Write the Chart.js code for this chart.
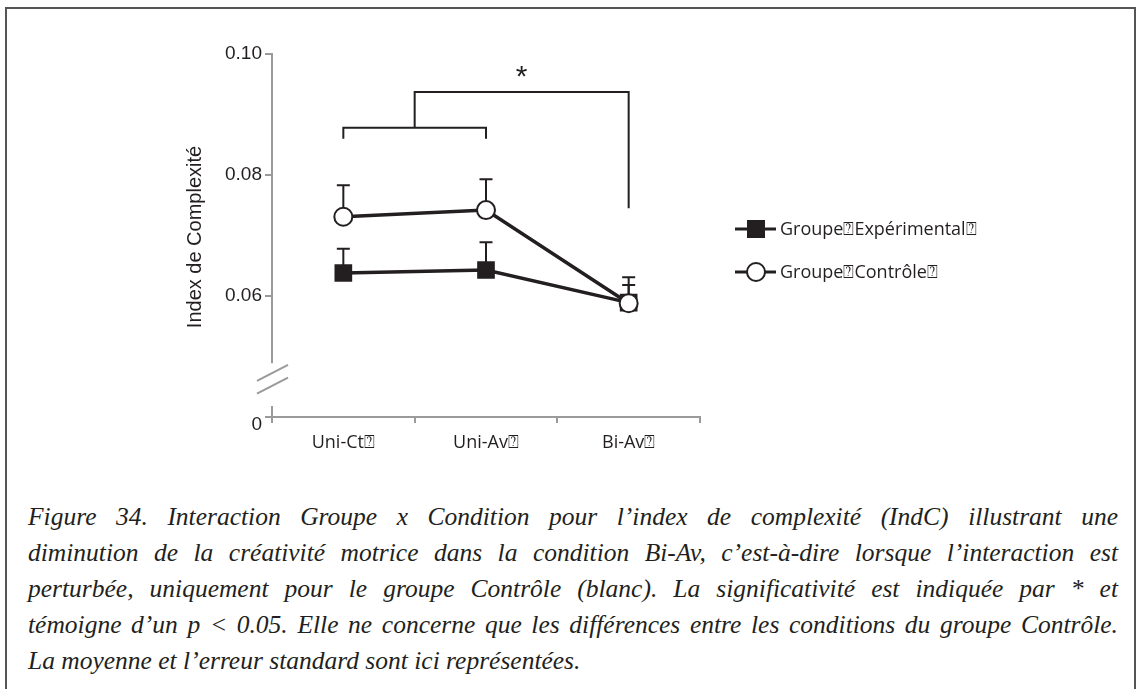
<!DOCTYPE html>
<html>
<head>
<meta charset="utf-8">
<script src="https://cdn.jsdelivr.net/npm/chart.js@4/dist/chart.umd.min.js"></script>
<style>
  html, body { margin: 0; padding: 0; background: #fff; }
  #page { position: relative; width: 1139px; height: 689px; overflow: hidden; }
  #frame { position: absolute; left: 5px; top: 7px; width: 1131px; height: 700px;
           border: 2px solid #555; border-bottom: none; box-sizing: border-box; }
  #chart { position: absolute; left: 0; top: 0; }
  #caption { position: absolute; left: 28px; top: 499px; width: 1090px;
             font-family: 'Liberation Serif', 'Times New Roman', serif;
             font-style: italic; font-size: 25.5px; line-height: 36px; color: #231f20; }
  #caption div { white-space: nowrap; text-align: justify; text-align-last: justify; }
  #caption div.last { text-align: left; text-align-last: left; }
</style>
</head>
<body>
<div id="page">
  <div id="frame"></div>
  <canvas id="chart" width="1139" height="460"></canvas>
  <div id="caption">
    <div>Figure 34. Interaction Groupe x Condition pour l’index de complexité (IndC) illustrant une</div>
    <div>diminution de la créativité motrice dans la condition Bi-Av, c’est-à-dire lorsque l’interaction est</div>
    <div>perturbée, uniquement pour le groupe Contrôle (blanc). La significativité est indiquée par * et</div>
    <div>témoigne d’un p &lt; 0.05. Elle ne concerne que les différences entre les conditions du groupe Contrôle.</div>
    <div class="last">La moyenne et l’erreur standard sont ici représentées.</div>
  </div>
</div>
<script>
// Conditions on the x axis
const conditions = ['Uni-Ct\u2370', 'Uni-Av\u2370', 'Bi-Av\u2370'];
// Group names
const groupNames = ['Groupe\u2370Expérimental\u2370', 'Groupe\u2370Contrôle\u2370'];
// Mean complexity index per condition
const expMeans  = [0.0638, 0.0643, 0.0589];
const ctrlMeans = [0.0731, 0.0742, 0.0588];
// Standard error per condition
const expSE  = [0.0040, 0.0046, 0.0029];
const ctrlSE = [0.0052, 0.0051, 0.0043];
// Y tick values (axis is broken below 0.06; the lowest tick stands for 0)
const yTickValues = [0.04, 0.06, 0.08, 0.10];
const yTickLabels = ['0', '0.06', '0.08', '0.10'];

const INK = '#231f20';
const AXIS = '#9a9a9a';
const SANS = '"Liberation Sans", Arial, sans-serif';

// Upward-only error bars, drawn under the markers
const errorBars = {
  id: 'errorBars',
  beforeDatasetsDraw(chart) {
    const { ctx, scales: { x, y } } = chart;
    ctx.save();
    ctx.strokeStyle = INK;
    ctx.lineWidth = 2;
    chart.data.datasets.forEach(ds => {
      ds.data.forEach((v, i) => {
        const px = x.getPixelForValue(i);
        const y0 = y.getPixelForValue(v);
        const y1 = y.getPixelForValue(v + ds.se[i]);
        ctx.beginPath();
        ctx.moveTo(px, y0); ctx.lineTo(px, y1);
        ctx.moveTo(px - 6.5, y1); ctx.lineTo(px + 6.5, y1);
        ctx.stroke();
      });
    });
    ctx.restore();
  }
};

// Broken y axis, zero label, significance bracket, axis title and legend
const decorations = {
  id: 'decorations',
  afterDraw(chart) {
    const { ctx, scales: { x, y }, chartArea } = chart;
    const ax = chartArea.left;
    ctx.save();

    // y axis line with a break
    ctx.strokeStyle = AXIS;
    ctx.lineWidth = 2;
    ctx.beginPath();
    ctx.moveTo(ax, y.getPixelForValue(0.10) - 1);
    ctx.lineTo(ax, y.getPixelForValue(0.0489));
    ctx.moveTo(ax, y.getPixelForValue(0.0418));
    ctx.lineTo(ax, y.getPixelForValue(0.04) + 1);
    ctx.stroke();
    const yb1 = y.getPixelForValue(0.0473);
    const yb2 = y.getPixelForValue(0.0452);
    ctx.beginPath();
    ctx.moveTo(ax - 15, yb1 + 8); ctx.lineTo(ax + 16, yb1 - 8);
    ctx.moveTo(ax - 15, yb2 + 8); ctx.lineTo(ax + 16, yb2 - 8);
    ctx.stroke();

    // the zero label sits a little below its tick
    ctx.fillStyle = INK;
    ctx.font = '19px ' + SANS;
    ctx.textAlign = 'right';
    ctx.textBaseline = 'middle';
    ctx.fillText(yTickLabels[0], ax - 10, y.getPixelForValue(yTickValues[0]) + 8);

    // significance bracket: (Uni-Ct + Uni-Av) vs Bi-Av for the control group
    const c0 = x.getPixelForValue(0), c1 = x.getPixelForValue(1), c2 = x.getPixelForValue(2);
    const stem = (c0 + c1) / 2;
    const yInner = y.getPixelForValue(0.0878);
    const yLegs = y.getPixelForValue(0.0860);
    const yTop = y.getPixelForValue(0.0937);
    const yRight = y.getPixelForValue(0.0745);
    ctx.strokeStyle = INK;
    ctx.lineWidth = 2;
    ctx.beginPath();
    ctx.moveTo(c0, yLegs); ctx.lineTo(c0, yInner); ctx.lineTo(c1, yInner); ctx.lineTo(c1, yLegs);
    ctx.moveTo(stem, yInner); ctx.lineTo(stem, yTop); ctx.lineTo(c2, yTop); ctx.lineTo(c2, yRight);
    ctx.stroke();
    ctx.fillStyle = INK;
    ctx.font = '30px ' + SANS;
    ctx.textAlign = 'center';
    ctx.textBaseline = 'middle';
    ctx.fillText('*', (stem + c2) / 2, y.getPixelForValue(0.0960));

    // y axis title
    ctx.save();
    ctx.translate(195, 237);
    ctx.rotate(-Math.PI / 2);
    ctx.font = '20px ' + SANS;
    ctx.fillStyle = INK;
    ctx.textAlign = 'center';
    ctx.textBaseline = 'middle';
    ctx.fillText('Index de Complexité', 0, 0);
    ctx.restore();

    // legend
    const rows = [
      { ds: chart.data.datasets[0], y: 229 },
      { ds: chart.data.datasets[1], y: 272 }
    ];
    rows.forEach(r => {
      ctx.strokeStyle = INK;
      ctx.lineWidth = 3;
      ctx.beginPath();
      ctx.moveTo(735, r.y); ctx.lineTo(776, r.y);
      ctx.stroke();
      if (r.ds.pointStyle === 'rect') {
        ctx.fillStyle = INK;
        ctx.fillRect(747, r.y - 9, 18, 18);
      } else {
        ctx.fillStyle = '#fff';
        ctx.lineWidth = 2;
        ctx.beginPath();
        ctx.arc(756, r.y, 9, 0, Math.PI * 2);
        ctx.fill(); ctx.stroke();
      }
      ctx.fillStyle = INK;
      ctx.font = '18px "Open Sans", sans-serif';
      ctx.textAlign = 'left';
      ctx.textBaseline = 'middle';
      ctx.fillText(r.ds.label, 780, r.y + 1);
    });
    ctx.restore();
  }
};

new Chart(document.getElementById('chart'), {
  type: 'line',
  data: {
    labels: conditions,
    datasets: [
      {
        label: groupNames[0],
        data: expMeans,
        se: expSE,
        borderColor: INK,
        borderWidth: 3.5,
        backgroundColor: INK,
        pointStyle: 'rect',
        pointRadius: 12.5,
        pointBorderWidth: 0,
        pointBackgroundColor: INK,
        tension: 0,
        order: 2
      },
      {
        label: groupNames[1],
        data: ctrlMeans,
        se: ctrlSE,
        borderColor: INK,
        borderWidth: 3.5,
        backgroundColor: '#fff',
        pointStyle: 'circle',
        pointRadius: 9,
        pointBorderWidth: 2,
        pointBorderColor: INK,
        pointBackgroundColor: '#fff',
        tension: 0,
        order: 1
      }
    ]
  },
  options: {
    responsive: false,
    animation: false,
    devicePixelRatio: 1,
    layout: { padding: { left: 0, top: 54, right: 439, bottom: 0 } },
    plugins: { legend: { display: false }, tooltip: { enabled: false } },
    scales: {
      x: {
        offset: true,
        grid: { offset: true, drawOnChartArea: false, drawTicks: true, tickLength: 6, color: AXIS, lineWidth: 2 },
        border: { display: true, color: AXIS, width: 2 },
        ticks: { color: INK, font: { family: '"Open Sans", sans-serif', size: 18 }, padding: 9, maxRotation: 0 },
        afterFit(scale) { scale.height = 43; }
      },
      y: {
        min: 0.04,
        max: 0.10,
        afterBuildTicks(scale) { scale.ticks = yTickValues.map(v => ({ value: v })); },
        grid: { drawOnChartArea: false, drawTicks: true, tickLength: 7, color: AXIS, lineWidth: 2 },
        border: { display: false },
        ticks: {
          color: INK,
          font: { family: SANS, size: 19 },
          padding: 3,
          // the zero label is drawn separately, slightly lowered
          callback: (v) => Math.abs(v - yTickValues[0]) < 1e-9 ? '' :
            yTickLabels[yTickValues.findIndex(t => Math.abs(t - v) < 1e-9)]
        },
        afterFit(scale) { scale.width = 272; }
      }
    }
  },
  plugins: [errorBars, decorations]
});
</script>
</body>
</html>
